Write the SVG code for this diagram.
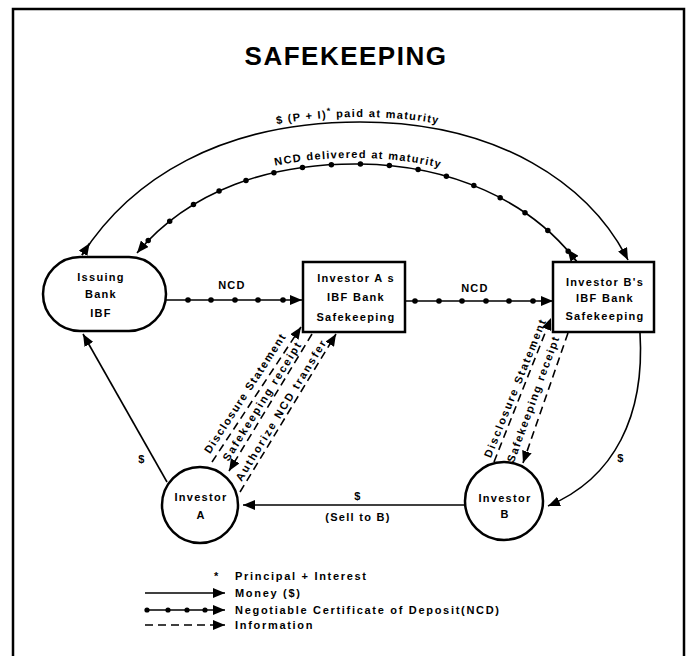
<svg xmlns="http://www.w3.org/2000/svg" width="693" height="656" viewBox="0 0 693 656">
<style>
text { font-family: "Liberation Sans", Arial, sans-serif; font-weight: bold; fill: #000; }
.lbl { font-size: 11px; letter-spacing: 1.3px; }
.leg { font-size: 11px; letter-spacing: 1.7px; }
.node { fill: #fff; stroke: #000; stroke-width: 2.5; }
.money { fill: none; stroke: #000; stroke-width: 1.6; }
.ncd { fill: none; stroke: #000; stroke-width: 1.6; }
.info { fill: none; stroke: #000; stroke-width: 1.6; stroke-dasharray: 8 5; }
.dot { fill: #000; }
.end { marker-end: url(#ah); }
</style>
<defs>
<marker id="ah" markerWidth="13" markerHeight="10" refX="12" refY="5" orient="auto-start-reverse" markerUnits="userSpaceOnUse"><path d="M0,0 L12,5 L0,10 z" fill="#000"/></marker>
<path id="outerTextPath" d="M77,250 C125,175 216,117 360,117 C502,117 594,180 633,256"/>
<path id="innerTextPath" d="M130,249 C184,184 266,157 360,158 C454,159 534,194 583,257"/>
</defs>
<rect x="0" y="0" width="693" height="656" fill="#fff"/>
<path d="M13,660 V9 H684 V660" fill="none" stroke="#000" stroke-width="2.5"/>
<text x="346" y="65" font-size="26" letter-spacing="1.5" text-anchor="middle">SAFEKEEPING</text>

<g id="connectors">
  <path class="money end" d="M82,255 C130,180 220,122 360,122 C500,122 590,185 628,260"/>
  <path class="money end" d="M82,255 L89.6,243.2"/>
  <text class="lbl" letter-spacing="2.2"><textPath href="#outerTextPath" startOffset="50%" text-anchor="middle">$ (P + I)<tspan font-size="9" dy="-4">*</tspan><tspan dy="4"> paid at maturity</tspan></textPath></text>

  <path class="ncd end" d="M577,262 C530,200 450,165 360,164 C270,163 190,190 137,253"/>
  <path class="ncd end" d="M577,262 L567.4,249.2"/>
  <path d="M577,262 C530,200 450,165 360,164 C270,163 190,190 137,253" fill="none" stroke="#000" stroke-width="5.5" stroke-linecap="round" stroke-dasharray="0 29" stroke-dashoffset="-14"/>
  <text class="lbl" letter-spacing="2.3"><textPath href="#innerTextPath" startOffset="50%" text-anchor="middle">NCD delivered at maturity</textPath></text>

  <path class="ncd end" d="M166,300 H302"/>
  <g class="dot"><circle cx="188" cy="300" r="2.8"/><circle cx="211" cy="300" r="2.8"/><circle cx="235" cy="300" r="2.8"/><circle cx="258" cy="300" r="2.8"/><circle cx="283" cy="300" r="2.8"/></g>
  <text class="lbl" x="232" y="289" text-anchor="middle">NCD</text>

  <path class="ncd end" d="M405,301 H553"/>
  <g class="dot"><circle cx="415" cy="301" r="2.8"/><circle cx="439" cy="301" r="2.8"/><circle cx="462" cy="301" r="2.8"/><circle cx="486" cy="301" r="2.8"/><circle cx="509" cy="301" r="2.8"/><circle cx="533" cy="301" r="2.8"/></g>
  <text class="lbl" x="475" y="292" text-anchor="middle">NCD</text>

  <path class="money end" d="M167,482 L83,334"/>
  <text class="lbl" x="142" y="463" text-anchor="middle">$</text>

  <path class="money end" d="M465,505 H243"/>
  <text class="lbl" x="358" y="500" text-anchor="middle">$</text>
  <text class="lbl" x="358" y="521" text-anchor="middle">(Sell to B)</text>

  <path class="money end" d="M640,333 C645,415 615,478 548,506"/>
  <text class="lbl" x="621" y="462" text-anchor="middle">$</text>

  <path class="info end" d="M212,462 L301,327"/>
  <path class="info end" d="M312,334 L229,471"/>
  <path class="info end" d="M240,492 L336,334"/>
  <text class="lbl" transform="translate(245,393) rotate(-57)" x="0" y="4" text-anchor="middle" textLength="141">Disclosure Statement</text>
  <text class="lbl" transform="translate(262,401) rotate(-58)" x="0" y="4" text-anchor="middle" textLength="139">Safekeeping receipt</text>
  <text class="lbl" transform="translate(281,410) rotate(-58.5)" x="0" y="4" text-anchor="middle" textLength="164">Authorize NCD transfer</text>

  <path class="info end" d="M494,462 L551,318"/>
  <path class="info end" d="M568,333 L523,463"/>
  <text class="lbl" transform="translate(515,388) rotate(-68)" x="0" y="4" text-anchor="middle" textLength="149">Disclosure Statement</text>
  <text class="lbl" transform="translate(533,399) rotate(-70)" x="0" y="4" text-anchor="middle" textLength="134">Safekeeping receipt</text>
</g>

<g id="issuing-bank">
  <rect class="node" x="43" y="257" width="123" height="74" rx="37" ry="37"/>
  <text class="lbl" x="101" y="281" text-anchor="middle">Issuing</text>
  <text class="lbl" x="101" y="298" text-anchor="middle">Bank</text>
  <text class="lbl" x="101" y="317" text-anchor="middle">IBF</text>
</g>
<g id="investor-a-bank">
  <rect class="node" x="303" y="262" width="102" height="70"/>
  <text class="lbl" x="356" y="282" text-anchor="middle">Investor A s</text>
  <text class="lbl" x="356" y="301" text-anchor="middle">IBF Bank</text>
  <text class="lbl" x="356" y="321" text-anchor="middle">Safekeeping</text>
</g>
<g id="investor-b-bank">
  <rect class="node" x="553" y="262" width="101" height="70"/>
  <text class="lbl" x="605" y="286" text-anchor="middle">Investor B's</text>
  <text class="lbl" x="605" y="302" text-anchor="middle">IBF Bank</text>
  <text class="lbl" x="605" y="320" text-anchor="middle">Safekeeping</text>
</g>
<g id="investor-a">
  <circle class="node" cx="200" cy="505" r="38"/>
  <text class="lbl" x="201" y="501" text-anchor="middle">Investor</text>
  <text class="lbl" x="201" y="519" text-anchor="middle">A</text>
</g>
<g id="investor-b">
  <circle class="node" cx="504" cy="501" r="39"/>
  <text class="lbl" x="505" y="502" text-anchor="middle">Investor</text>
  <text class="lbl" x="505" y="518" text-anchor="middle">B</text>
</g>

<g id="legend">
  <text class="leg" x="214" y="580">*<tspan x="235">Principal + Interest</tspan></text>
  <path class="money end" d="M145,593 H225"/>
  <text class="leg" x="235" y="597">Money ($)</text>
  <path class="ncd end" d="M145,610 H225"/>
  <g class="dot"><circle cx="147" cy="610" r="2.6"/><circle cx="168" cy="610" r="2.6"/><circle cx="187" cy="610" r="2.6"/><circle cx="205" cy="610" r="2.6"/></g>
  <text class="leg" x="235" y="614">Negotiable Certificate of Deposit(NCD)</text>
  <path class="info end" d="M145,625 H225"/>
  <text class="leg" x="235" y="629">Information</text>
</g>
</svg>
